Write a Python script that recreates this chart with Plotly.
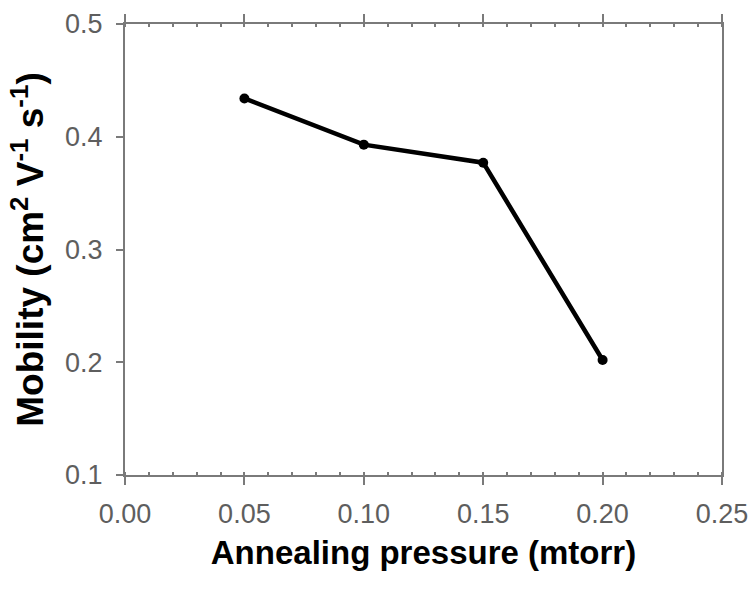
import plotly.graph_objects as go

pressure = [0.05, 0.10, 0.15, 0.20]
mobility = [0.434, 0.393, 0.377, 0.202]

x_ticks = [0.00, 0.05, 0.10, 0.15, 0.20, 0.25]
y_ticks = [0.1, 0.2, 0.3, 0.4, 0.5]

fig = go.Figure()
fig.add_trace(go.Scatter(
    x=pressure, y=mobility, mode="lines+markers",
    line=dict(color="black", width=4.5),
    marker=dict(color="black", size=10),
    showlegend=False, cliponaxis=False,
))

axis_gray = "#7a7a7a"
tick_font = dict(family="Liberation Sans, Arial, sans-serif", size=27, color="#5e5e5e")

fig.update_layout(
    width=752, height=590,
    margin=dict(l=125, r=30, t=24, b=115),
    paper_bgcolor="white", plot_bgcolor="white",
    xaxis=dict(
        range=[0, 0.25], tickvals=x_ticks, ticktext=[f"{v:.2f}" for v in x_ticks],
        showline=True, linecolor=axis_gray, linewidth=2, mirror="ticks",
        ticks="outside", ticklen=8, tickwidth=1.5, tickcolor=axis_gray,
        ticklabelstandoff=6, automargin=False,
        minor=dict(dtick=0.01, ticks="inside", ticklen=3, tickcolor=axis_gray, showgrid=False),
        showgrid=False, zeroline=False, tickfont=tick_font,
        title=dict(text="<b>Annealing pressure (mtorr)</b>",
                   font=dict(family="Liberation Sans, Arial, sans-serif", size=33, color="black"),
                   standoff=12),
    ),
    yaxis=dict(
        range=[0.1, 0.5], tickvals=y_ticks, ticktext=[f"{v:.1f}" for v in y_ticks],
        showline=True, linecolor=axis_gray, linewidth=2, mirror=True,
        ticks="outside", ticklen=7, tickwidth=1.5, tickcolor=axis_gray,
        ticklabelstandoff=8, automargin=False,
        showgrid=False, zeroline=False, tickfont=tick_font,
        title=dict(text="<b>Mobility (cm<sup>2</sup> V<sup>-1</sup> s<sup>-1</sup>)</b>",
                   font=dict(family="Liberation Sans, Arial, sans-serif", size=37, color="black"),
                   standoff=10),
    ),
)

fig.write_html("out.html")
